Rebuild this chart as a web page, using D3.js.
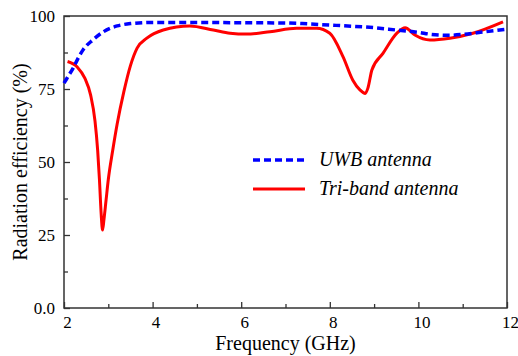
<!DOCTYPE html>
<html><head><meta charset="utf-8">
<script src="https://cdn.jsdelivr.net/npm/d3@7"></script>
<style>body{margin:0;background:#fff}svg{display:block}</style>
</head><body><svg id="c" width="518" height="356"></svg>
<script>
const uwbFreq = [2.0,2.1,2.2,2.3,2.43,2.65,2.88,3.2,3.5,4,5,6,7,7.5,8,8.5,9,9.5,10,10.3,10.7,11,11.4,12];
const uwbEff  = [77,79.5,82,85,88.4,91.8,94.5,96.6,97.4,97.8,97.8,97.7,97.6,97.3,96.9,96.5,96,95.2,94.4,93.7,93.4,93.7,94.4,95.5];
const triFreq = [2.08,2.3,2.47,2.6,2.7,2.76,2.8,2.84,2.87,2.9,2.95,3.0,3.1,3.2,3.35,3.5,3.65,3.87,4.24,4.84,5.37,5.75,6.12,6.65,7.25,7.7,8.0,8.3,8.52,8.68,8.8,8.86,8.95,9.2,9.52,9.7,9.92,10.26,10.71,11.23,11.91];
const triEff  = [84.4,82.5,78.7,73,64,54,44,32,26.7,30,37,44,54,63,74,83,89,92.4,95.2,96.6,95.2,94.1,93.8,94.6,95.8,95.8,94.1,86,78,74.7,73.5,75.3,81.5,87.2,94.2,96,93.5,91.8,92.4,94.1,98];
const xTicks = [2,4,6,8,10,12];
const xMinor = [3,5,7,9,11];
const yTicks = [0,25,50,75,100];
const yTickLabels = ["0.0","25","50","75","100"];
const yMinor = [12.5,37.5,62.5,87.5];
const seriesNames = ["UWB antenna","Tri-band antenna"];

const FONT = "'Liberation Serif', 'Times New Roman', Times, serif";
const svg = d3.select("#c");
const L=64,R=507,T=16,B=308;
const x = d3.scaleLinear().domain([2,12]).range([L,R]);
const y = d3.scaleLinear().domain([0,100]).range([B,T]);

// frame
svg.append("rect").attr("x",L).attr("y",T).attr("width",R-L).attr("height",B-T)
  .attr("fill","none").attr("stroke","#333").attr("stroke-width",1.5);

// x axis
const gx = svg.append("g").attr("transform",`translate(0,${B})`)
  .call(d3.axisBottom(x).tickValues(xTicks).tickSizeInner(-6).tickSizeOuter(0).tickPadding(8));
gx.attr("font-family",FONT).attr("font-size",17);
gx.select(".domain").remove();
gx.selectAll("line").attr("stroke","#333").attr("stroke-width",1.3);
gx.selectAll("text").attr("font-family",FONT).attr("font-size",17).attr("fill","#000").attr("dx",3);
const gxm = svg.append("g").attr("transform",`translate(0,${B})`)
  .call(d3.axisBottom(x).tickValues(xMinor).tickSize(-4).tickFormat(""));
gxm.select(".domain").remove();
gxm.selectAll("line").attr("stroke","#333").attr("stroke-width",1.3);

// y axis
const gy = svg.append("g").attr("transform",`translate(${L},0)`)
  .call(d3.axisLeft(y).tickValues(yTicks).tickFormat((d,i)=>yTickLabels[i]).tickSizeInner(-6).tickSizeOuter(0).tickPadding(9));
gy.attr("font-family",FONT).attr("font-size",17);
gy.select(".domain").remove();
gy.selectAll("line").attr("stroke","#333").attr("stroke-width",1.3);
gy.selectAll("text").attr("font-family",FONT).attr("font-size",17).attr("fill","#000");
const gym = svg.append("g").attr("transform",`translate(${L},0)`)
  .call(d3.axisLeft(y).tickValues(yMinor).tickSize(-4).tickFormat(""));
gym.select(".domain").remove();
gym.selectAll("line").attr("stroke","#333").attr("stroke-width",1.3);

// titles
svg.append("text").attr("x",(L+R)/2).attr("y",350).attr("text-anchor","middle")
  .attr("font-family",FONT).attr("font-size",20).text("Frequency (GHz)");
svg.append("text").attr("transform",`translate(27,${(T+B)/2}) rotate(-90)`).attr("text-anchor","middle")
  .attr("font-family",FONT).attr("font-size",20).text("Radiation efficiency (%)");

// lines
const line = d3.line().x(d=>x(d[0])).y(d=>y(d[1])).curve(d3.curveMonotoneX);
const uwb = uwbFreq.map((f,i)=>[f,uwbEff[i]]);
const tri = triFreq.map((f,i)=>[f,triEff[i]]);
svg.append("path").datum(tri).attr("d",line).attr("fill","none").attr("stroke","#ff0000").attr("stroke-width",3);
svg.append("path").datum(uwb).attr("d",line).attr("fill","none").attr("stroke","#0000ff").attr("stroke-width",3.5).attr("stroke-dasharray","7,4");

// legend
const lg = svg.append("g");
lg.append("line").attr("x1",253).attr("x2",305).attr("y1",160).attr("y2",160).attr("stroke","#0000ff").attr("stroke-width",3.5).attr("stroke-dasharray","7,4");
lg.append("line").attr("x1",253).attr("x2",305).attr("y1",189).attr("y2",189).attr("stroke","#ff0000").attr("stroke-width",3);
lg.append("text").attr("x",319).attr("y",166).attr("font-family",FONT).attr("font-size",20).attr("font-style","italic").text(seriesNames[0]);
lg.append("text").attr("x",319).attr("y",195).attr("font-family",FONT).attr("font-size",20).attr("font-style","italic").text(seriesNames[1]);
</script></body></html>
